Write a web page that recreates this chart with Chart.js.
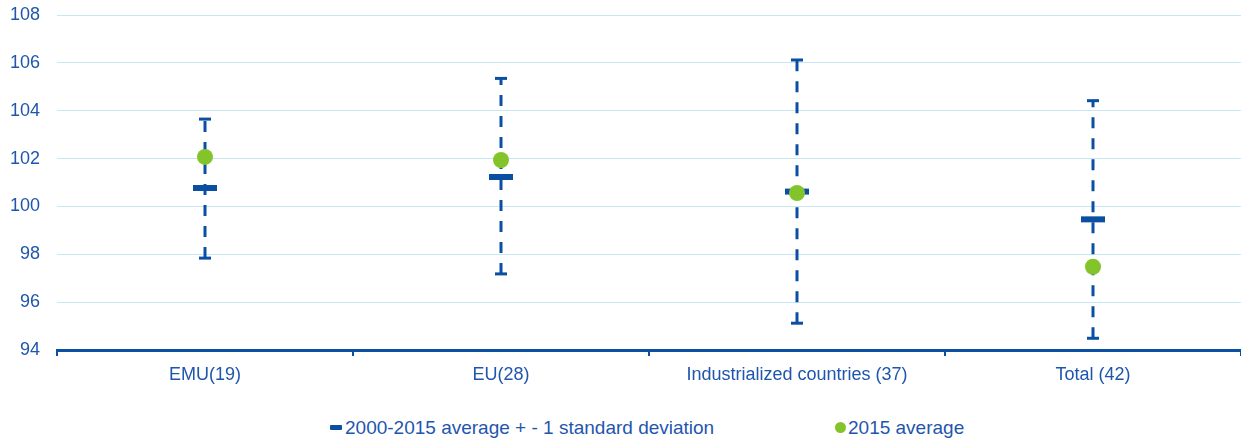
<!DOCTYPE html>
<html>
<head>
<meta charset="utf-8">
<script src="https://cdn.jsdelivr.net/npm/chart.js@4.4.1/dist/chart.umd.min.js"></script>
<style>
  html, body { margin: 0; padding: 0; background: #fff; }
  #wrap { position: relative; width: 1241px; height: 441px; font-family: 'Liberation Sans', Arial, sans-serif; }
  #legend { position: absolute; top: 417px; left: 0; width: 1241px; height: 22px; color: #1f56ad; font-size: 19px; }
  .item { position: absolute; top: 0; white-space: nowrap; line-height: 22px; }
  .bar { display: inline-block; width: 12px; height: 5px; background: #0b4fa3; border-radius: 1px; vertical-align: middle; margin-right: 3px; position: relative; top: -1px; }
  .dot { display: inline-block; width: 11px; height: 11px; background: #84c42b; border-radius: 50%; vertical-align: middle; margin-right: 2px; position: relative; top: -1px; }
</style>
</head>
<body>
<div id="wrap">
  <canvas id="chart" width="1241" height="400"></canvas>
  <div id="legend">
    <span class="item" style="left:330px"><span class="bar"></span>2000-2015 average + - 1 standard deviation</span>
    <span class="item" style="left:835px"><span class="dot"></span>2015 average</span>
  </div>
</div>
<script>
const categories = ['EMU(19)', 'EU(28)', 'Industrialized countries (37)', 'Total (42)'];
const avg2000_2015 = [100.77, 101.23, 100.62, 99.46];
const lowSD = [97.84, 97.18, 95.12, 94.49];
const highSD = [103.65, 105.35, 106.12, 104.42];
const avg2015 = [102.07, 101.94, 100.56, 97.48];
const yTicks = [94, 96, 98, 100, 102, 104, 106, 108];

const navy = '#0b4fa3';
const green = '#84c42b';
const textBlue = '#1f56ad';

// dashed range lines, one per category
const rangeSets = categories.map((c, i) => ({
  label: 'range-' + i,
  data: [{ x: c, y: lowSD[i] }, { x: c, y: highSD[i] }],
  borderColor: navy,
  borderWidth: 3,
  borderDash: [11, 10],
  pointRadius: 0,
  showLine: true,
  order: 5
}));

const datasets = [
  {
    label: '2015 average',
    data: avg2015,
    showLine: false,
    pointStyle: 'circle',
    pointRadius: 8,
    pointBackgroundColor: green,
    pointBorderColor: green,
    pointBorderWidth: 0,
    order: 0
  },
  {
    label: '2000-2015 average + - 1 standard deviation',
    data: avg2000_2015,
    showLine: false,
    pointStyle: 'line',
    pointRadius: 12,
    pointBorderWidth: 6,
    pointBorderColor: navy,
    order: 1
  },
  {
    label: 'high',
    data: highSD,
    showLine: false,
    pointStyle: 'line',
    pointRadius: 6,
    pointBorderWidth: 3,
    pointBorderColor: navy,
    order: 2
  },
  {
    label: 'low',
    data: lowSD,
    showLine: false,
    pointStyle: 'line',
    pointRadius: 6,
    pointBorderWidth: 3,
    pointBorderColor: navy,
    order: 2
  },
  ...rangeSets
];

new Chart(document.getElementById('chart'), {
  type: 'line',
  data: { labels: categories, datasets },
  options: {
    responsive: false,
    animation: false,
    layout: { autoPadding: false, padding: { top: 15, right: 0, left: 0, bottom: 0 } },
    plugins: {
      legend: { display: false },
      tooltip: { enabled: false }
    },
    scales: {
      x: {
        type: 'category',
        offset: true,
        grid: { offset: true, drawOnChartArea: false, drawTicks: true, tickLength: 6, color: navy, lineWidth: 2 },
        border: { color: navy, width: 3 },
        ticks: { color: textBlue, font: { family: 'Liberation Sans', size: 18 }, padding: 8 },
        afterFit: s => { s.height = 50; s.paddingLeft = 0; s.paddingRight = 0; }
      },
      y: {
        min: 94,
        max: 108,
        afterBuildTicks: s => { s.ticks = yTicks.map(v => ({ value: v })); },
        grid: { color: '#c8e6f6', lineWidth: 1, drawTicks: false },
        border: { display: false },
        ticks: { color: textBlue, font: { family: 'Liberation Sans', size: 18 }, padding: 17 },
        afterFit: s => { s.width = 57; s.paddingTop = 0; s.paddingBottom = 0; }
      }
    }
  }
});
</script>
</body>
</html>
